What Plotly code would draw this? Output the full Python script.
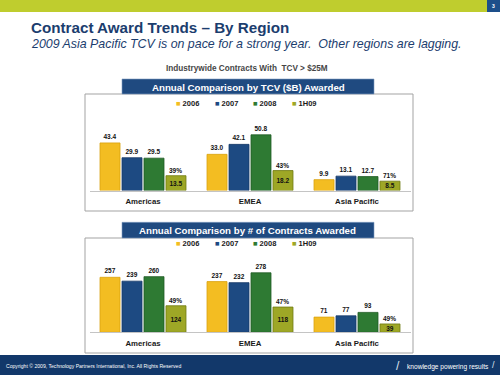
import plotly.graph_objects as go

W, H = 500, 375

# ---------------- data ----------------
regions = ["Americas", "EMEA", "Asia Pacific"]
years = ["2006", "2007", "2008", "1H09"]

tcv_2006 = [43.4, 33.0, 9.9]
tcv_2007 = [29.9, 42.1, 13.1]
tcv_2008 = [29.5, 50.8, 12.7]
tcv_1h09 = [13.5, 18.2, 8.5]
tcv_pct = ["39%", "43%", "71%"]

cnt_2006 = [257, 237, 71]
cnt_2007 = [239, 232, 77]
cnt_2008 = [260, 278, 93]
cnt_1h09 = [124, 118, 39]
cnt_pct = ["49%", "47%", "49%"]

year_colors = ["#f3bd22", "#1d4a82", "#2e7a33", "#9ea726"]
year_lines = ["#d9a20f", "#163a68", "#1f5b24", "#6f7a12"]

FONT = "Liberation Sans, Arial, sans-serif"


def px(x):
    return x / W


def py(y):
    return 1 - y / H


# layout geometry (pixels)
X_LEFT, X_RIGHT = 89.5, 410.5
BARGAP, GROUPGAP = 0.178, 0.09
C1_BASE, C1_TOP = 190.5, 120
C2_BASE, C2_TOP = 332.3, 262
C1_SCALE = 1.096
C2_SCALE = 0.214

fig = go.Figure()


def add_chart(series, xa, ya, fmt):
    for i, (name, vals) in enumerate(zip(years, series)):
        last = i == len(years) - 1
        fig.add_trace(go.Bar(
            x=regions, y=vals, name=name, xaxis=xa, yaxis=ya,
            marker=dict(color=year_colors[i], line=dict(color=year_lines[i], width=0.8)),
            texttemplate=fmt,
            textposition="inside" if last else "outside",
            insidetextanchor="middle",
            constraintext="none",
            textfont=dict(family=FONT, size=6.5, color="#111111", weight="bold"),
            cliponaxis=False,
            showlegend=False,
        ))


add_chart([tcv_2006, tcv_2007, tcv_2008, tcv_1h09], "x", "y", "%{y:.1f}")
add_chart([cnt_2006, cnt_2007, cnt_2008, cnt_1h09], "x2", "y2", "%{y:d}")

axis_x = dict(
    domain=[px(X_LEFT), px(X_RIGHT)], range=[-0.5, 2.5], type="category",
    showline=True, linecolor="#c4c4c4", linewidth=1, showgrid=False, zeroline=False,
    ticks="outside", ticklen=3, tickcolor="rgba(0,0,0,0)",
    tickfont=dict(family=FONT, size=7.8, color="#1a1a1a", weight="bold"),
    fixedrange=True,
)

fig.update_layout(
    width=W, height=H, margin=dict(l=0, r=0, t=0, b=0),
    paper_bgcolor="white", plot_bgcolor="rgba(0,0,0,0)",
    barmode="group", bargap=BARGAP, bargroupgap=GROUPGAP,
    uniformtext=dict(minsize=6.5, mode="show"),
    xaxis=dict(axis_x, anchor="y"),
    yaxis=dict(domain=[py(C1_BASE), py(C1_TOP)], range=[0, (C1_BASE - C1_TOP) / C1_SCALE],
               visible=False, fixedrange=True),
    xaxis2=dict(axis_x, anchor="y2"),
    yaxis2=dict(domain=[py(C2_BASE), py(C2_TOP)], range=[0, (C2_BASE - C2_TOP) / C2_SCALE],
                visible=False, fixedrange=True, anchor="x2"),
)

shapes = []
# top green band and page number box
shapes.append(dict(type="rect", xref="paper", yref="paper", x0=0, x1=1, y0=py(12), y1=1,
                   fillcolor="#bfcd2e", line=dict(width=0)))
shapes.append(dict(type="rect", xref="paper", yref="paper", x0=px(487), x1=1, y0=py(12), y1=1,
                   fillcolor="#1d4f8a", line=dict(width=0)))
# chart boxes and banners
for (bt, bb, nt) in [(94, 211, 79), (238, 353, 222.3)]:
    shapes.append(dict(type="rect", xref="paper", yref="paper", x0=px(85), x1=px(413),
                       y0=py(bb), y1=py(bt), line=dict(color="#a3a3a3", width=1)))
    shapes.append(dict(type="rect", xref="paper", yref="paper", x0=px(122), x1=px(374),
                       y0=py(bt), y1=py(nt), fillcolor="#1f4a80",
                       line=dict(color="#7f9cc0", width=0.6)))
# footer band
shapes.append(dict(type="rect", xref="paper", yref="paper", x0=0, x1=1, y0=0, y1=py(355),
                   fillcolor="#12386a", line=dict(width=0)))
fig.update_layout(shapes=shapes)

ann = []


def text(x, y, s, size, color="#000", bold=False, italic=False, xanchor="left"):
    ann.append(dict(xref="paper", yref="paper", x=px(x), y=py(y), text=s, showarrow=False,
                    xanchor=xanchor, yanchor="middle",
                    font=dict(family=FONT, size=size, color=color,
                              weight="bold" if bold else "normal",
                              style="italic" if italic else "normal")))


text(493.5, 6, "3", 5, "white", bold=True, xanchor="center")
text(29, 27.5, "Contract Award Trends \u2013 By Region", 15.2, "#1b3d6e", bold=True)
text(29, 43.5, "2009 Asia Pacific TCV is on pace for a strong year.\u00a0 Other regions are lagging.",
     12.4, "#1b3d6e", italic=True)
text(246.5, 69, "Industrywide Contracts With\u00a0 TCV &gt; $25M", 8.2, "#464646", bold=True,
     xanchor="center")
text(248, 87, "Annual Comparison by TCV ($B) Awarded", 9.7, "white", bold=True, xanchor="center")
text(247.5, 230.3, "Annual Comparison by # of Contracts Awarded", 9.7, "white", bold=True,
     xanchor="center")

# legends
for ly in (103.7, 243.3):
    for i, (lx, name) in enumerate(zip([173.5, 212.5, 251, 290], years)):
        ann.append(dict(xref="paper", yref="paper", x=px(lx), y=py(ly), showarrow=False,
                        xanchor="left", yanchor="middle",
                        text=f"<span style='color:{year_colors[i]}'>\u25a0</span> {name}",
                        font=dict(family=FONT, size=7.5, color="#1a1a1a", weight="bold")))

# percentage labels above 1H09 bars
slot_px = (X_RIGHT - X_LEFT) / 3 * (1 - BARGAP) / 4
for xa, ya, vals, pcts in [("x", "y", tcv_1h09, tcv_pct), ("x2", "y2", cnt_1h09, cnt_pct)]:
    for r, v, p in zip(regions, vals, pcts):
        ann.append(dict(xref=xa, yref=ya, x=r, y=v, text=p, showarrow=False,
                        xanchor="center", yanchor="bottom", xshift=1.5 * slot_px, yshift=0,
                        font=dict(family=FONT, size=6.5, color="#111111", weight="bold")))

# footer texts
text(4, 366, "Copyright \u00a9 2009, Technology Partners International, Inc. All Rights Reserved",
     5.1, "white")
text(398, 366, "/", 12, "#dfe6ef", xanchor="center")
text(405, 367, "knowledge powering results", 6.6, "white")
text(493, 365, "/", 9, "#dfe6ef", xanchor="center")

fig.update_layout(annotations=ann)
fig.write_html(
    "out.html",
    config={"displayModeBar": False},
    post_script="document.body.style.margin='0';document.body.style.overflow='hidden';",
)
